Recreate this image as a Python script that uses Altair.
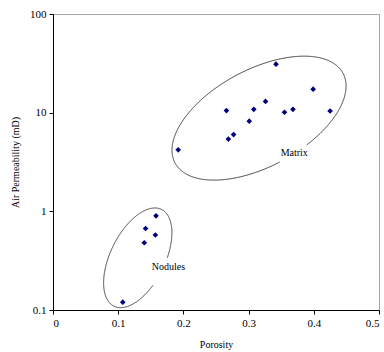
import altair as alt
import numpy as np
import pandas as pd

# Measured samples: porosity (fraction) and air permeability (mD)
porosity = [0.107, 0.140, 0.142, 0.157, 0.158, 0.192, 0.266, 0.269, 0.277,
            0.301, 0.308, 0.326, 0.342, 0.355, 0.368, 0.399, 0.425]
permeability = [0.12, 0.48, 0.67, 0.575, 0.90, 4.2, 10.5, 5.4, 6.0,
                8.2, 10.8, 13.0, 31.0, 10.1, 10.8, 17.3, 10.4]

x_ticks = [0, 0.1, 0.2, 0.3, 0.4, 0.5]
y_ticks = [0.1, 1, 10, 100]

# Cluster annotations
groups = ["Matrix", "Nodules"]
label_x = [0.370, 0.177]
label_y = [3.9, 0.273]
center_x = [0.316, 0.130]
center_y = [8.8, 0.338]

# Outline geometry in screen pixels: semi-axes, tilt (deg) and the gap left for the label
semi_major = [95.2, 53.9]
semi_minor = [48.5, 27.3]
tilt = [28.1, 63.8]
gap_box = [(-18, 18, -8, 9), (-19, 19, -9, 18)]  # dx0, dx1, dy0, dy1

W, H = 326, 296
X_MAX = 0.5
LOG_MIN, LOG_MAX = -1.0, 2.0


def to_px(x, y):
    return x / X_MAX * W, (LOG_MAX - np.log10(y)) / (LOG_MAX - LOG_MIN) * H


def from_px(px, py):
    return px / W * X_MAX, 10 ** (LOG_MAX - py / H * (LOG_MAX - LOG_MIN))


rows = []
t = np.linspace(0, 2 * np.pi, 721)
for g, cx, cy, a, b, th, lx, ly, box in zip(groups, center_x, center_y, semi_major,
                                             semi_minor, tilt, label_x, label_y, gap_box):
    cpx, cpy = to_px(cx, cy)
    lpx, lpy = to_px(lx, ly)
    r = np.radians(th)
    ex = a * np.cos(t) * np.cos(r) - b * np.sin(t) * np.sin(r)
    ey = a * np.cos(t) * np.sin(r) + b * np.sin(t) * np.cos(r)
    px, py = cpx + ex, cpy - ey
    # start the outline next to its label so the break falls at the ends
    start = int(np.argmin((px - lpx) ** 2 + (py - lpy) ** 2))
    px, py = np.roll(px, -start), np.roll(py, -start)
    for i, (u, v) in enumerate(zip(px, py)):
        dx, dy = u - lpx, v - lpy
        if box[0] <= dx <= box[1] and box[2] <= dy <= box[3]:
            continue
        xv, yv = from_px(u, v)
        rows.append({"group": g, "i": i, "x": xv, "y": yv})

outline = pd.DataFrame(rows)
points = pd.DataFrame({"porosity": porosity, "permeability": permeability})
labels = pd.DataFrame({"group": groups, "x": label_x, "y": label_y})

x_scale = alt.Scale(domain=[0, 0.5], nice=False, zero=False)
y_scale = alt.Scale(type="log", domain=[0.1, 100], nice=False)

x_axis = alt.Axis(values=x_ticks, format="~g", title="Porosity", grid=False,
                  titlePadding=11)
y_axis = alt.Axis(values=y_ticks, format="~g", title="Air Permeability (mD)",
                  grid=False, titlePadding=9)

shapes = alt.Chart(outline).mark_line(color="#3c3c3c", strokeWidth=1).encode(
    x=alt.X("x:Q", scale=x_scale, axis=x_axis),
    y=alt.Y("y:Q", scale=y_scale, axis=y_axis),
    detail="group:N",
    order="i:Q",
)

dots = alt.Chart(points).mark_point(
    shape="diamond", filled=True, color="#000080", size=32, opacity=1
).encode(
    x=alt.X("porosity:Q", scale=x_scale),
    y=alt.Y("permeability:Q", scale=y_scale),
)

names = alt.Chart(labels).mark_text(
    font="Liberation Serif", fontSize=10, color="black"
).encode(
    x=alt.X("x:Q", scale=x_scale),
    y=alt.Y("y:Q", scale=y_scale),
    text="group:N",
)

chart = alt.layer(shapes, dots, names).properties(
    width=W, height=H,
    autosize=alt.AutoSizeParams(type="none"),
    padding={"left": 53, "top": 14, "right": 5, "bottom": 42},
    background="white",
).configure_view(
    stroke="#a6a6a6", strokeWidth=1
).configure_axis(
    domainColor="black", tickColor="black", tickSize=4,
    labelFont="Liberation Serif", labelFontSize=11, labelColor="black",
    labelPadding=3,
    titleFont="Liberation Serif", titleFontSize=10, titleFontWeight="normal",
    titleColor="black",
)

chart.save("out.html", embed_options={"renderer": "svg", "actions": False})
